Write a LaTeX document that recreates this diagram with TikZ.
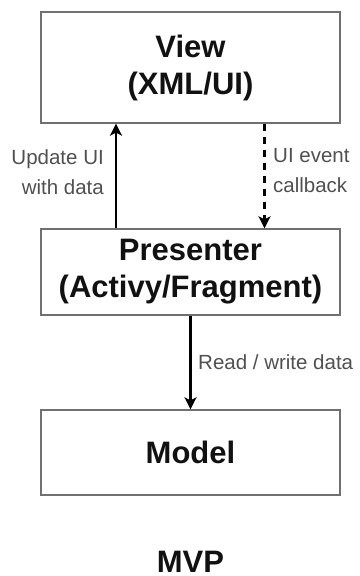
\documentclass[tikz,border=0pt]{standalone}
\usepackage{fontspec}
\setmainfont{Liberation Sans}
\usetikzlibrary{arrows.meta}
\definecolor{boxgray}{HTML}{707070}
\definecolor{lblgray}{HTML}{505050}
\definecolor{txtblack}{HTML}{111111}
\begin{document}
\begin{tikzpicture}[x=1pt,y=-1pt,
  box/.style={draw=boxgray, line width=1.3pt, minimum width=299pt, inner sep=0pt, align=center,
    font=\fontsize{31}{37}\selectfont\bfseries, text=txtblack},
  lbl/.style={font=\fontsize{20.5}{30}\selectfont, text=lblgray, inner sep=0pt},
  arr/.style={line width=2.2pt, -{Stealth[length=12pt,width=12pt,inset=3pt]}}]
\useasboundingbox (0,0) rectangle (359,576);
\node[box, minimum height=111pt] (view) at (190.5,67.5) {View\\(XML/UI)};
\node[box, minimum height=86pt] (pres) at (190.5,272) {Presenter\\(Activy/Fragment)};
\node[box, minimum height=85pt] (model) at (190.5,452.5) {Model};
\node[font=\fontsize{31}{37}\selectfont\bfseries, text=txtblack, inner sep=0pt] (mvp) at (190.5,561.5) {MVP};
\draw[arr] ([xshift=-74.5pt]pres.north) -- ([xshift=-74.5pt]view.south);
\draw[arr, dash pattern=on 7pt off 6pt] ([xshift=74pt]view.south) -- ([xshift=74pt]pres.north);
\draw[arr] (pres.south) -- (model.north);
\node[lbl, align=right, anchor=east] (upd) at (104,172) {Update UI\\with data};
\node[lbl, align=left, anchor=west] (cb) at (273,171) {UI event\\callback};
\node[lbl, anchor=west] (rw) at (198,362) {Read / write data};
\end{tikzpicture}
\end{document}
